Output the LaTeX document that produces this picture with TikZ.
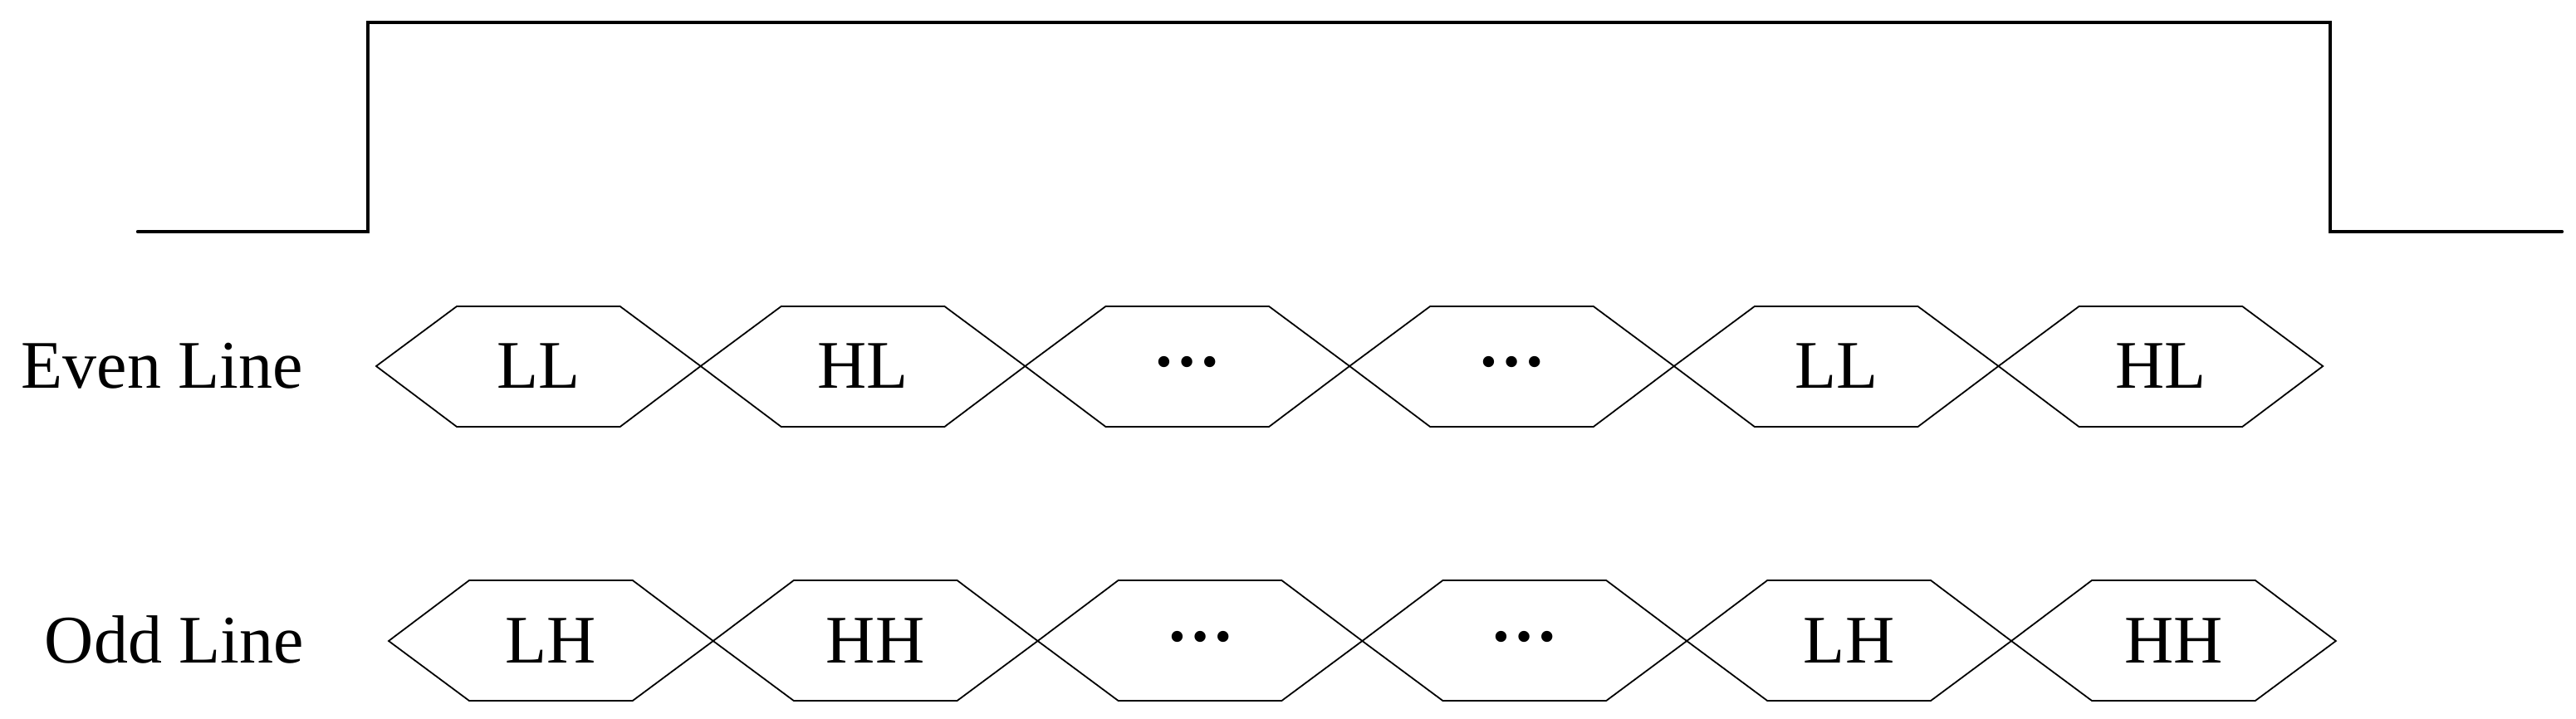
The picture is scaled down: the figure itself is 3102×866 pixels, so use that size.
\documentclass[tikz,border=0pt]{standalone}
\usepackage{fontspec}
\setmainfont{Liberation Serif}
\begin{document}
\begin{tikzpicture}[x=0.25pt,y=-0.25pt,
  sig/.style={line width=1.1pt,line cap=round,line join=miter},
  hexline/.style={line width=0.45pt,line join=miter},
  lbl/.style={inner sep=0pt,font=\fontsize{20.5}{24}\selectfont},
  dotlbl/.style={inner sep=0pt,font=\fontsize{20.5}{24}\selectfont\bfseries},
]
\useasboundingbox (0,0) rectangle (3102,866);
% clock / enable signal
\coordinate (s0) at (166,279);
\coordinate (s1) at (443,279);
\coordinate (s2) at (443,27);
\coordinate (s3) at (2806,27);
\coordinate (s4) at (2806,279);
\coordinate (s5) at (3085,279);
\draw[sig] (s0) -- (s1) -- (s2) -- (s3) -- (s4) -- (s5);
% even row
\foreach \k in {0,...,5}{
  \pgfmathsetmacro\a{453+390.7*\k}
  \pgfmathsetmacro\b{\a+390.7}
  \draw[hexline] (\a,441) -- ({\a+97},369) -- ({\b-97},369) -- (\b,441)
     -- ({\b-97},514) -- ({\a+97},514) -- cycle;
}
% odd row
\foreach \k in {0,...,5}{
  \pgfmathsetmacro\a{468+390.8*\k}
  \pgfmathsetmacro\b{\a+390.8}
  \draw[hexline] (\a,772) -- ({\a+97},699) -- ({\b-97},699) -- (\b,772)
     -- ({\b-97},844) -- ({\a+97},844) -- cycle;
}
% row labels
\node[lbl,anchor=base west] (even) at (25,467) {Even Line};
\node[lbl,anchor=base west] (odd) at (53,798) {Odd Line};
% even contents
\node[lbl,anchor=base] (e1) at (648.35,467) {LL};
\node[lbl,anchor=base] (e2) at (1039.05,467) {HL};
\node[dotlbl,anchor=base] (e3) at (1429.75,441) {…};
\node[dotlbl,anchor=base] (e4) at (1820.45,441) {…};
\node[lbl,anchor=base] (e5) at (2211.15,467) {LL};
\node[lbl,anchor=base] (e6) at (2601.85,467) {HL};
% odd contents
\node[lbl,anchor=base] (o1) at (663.4,798) {LH};
\node[lbl,anchor=base] (o2) at (1054.2,798) {HH};
\node[dotlbl,anchor=base] (o3) at (1445.0,772) {…};
\node[dotlbl,anchor=base] (o4) at (1835.8,772) {…};
\node[lbl,anchor=base] (o5) at (2226.6,798) {LH};
\node[lbl,anchor=base] (o6) at (2617.4,798) {HH};
\end{tikzpicture}
\end{document}
